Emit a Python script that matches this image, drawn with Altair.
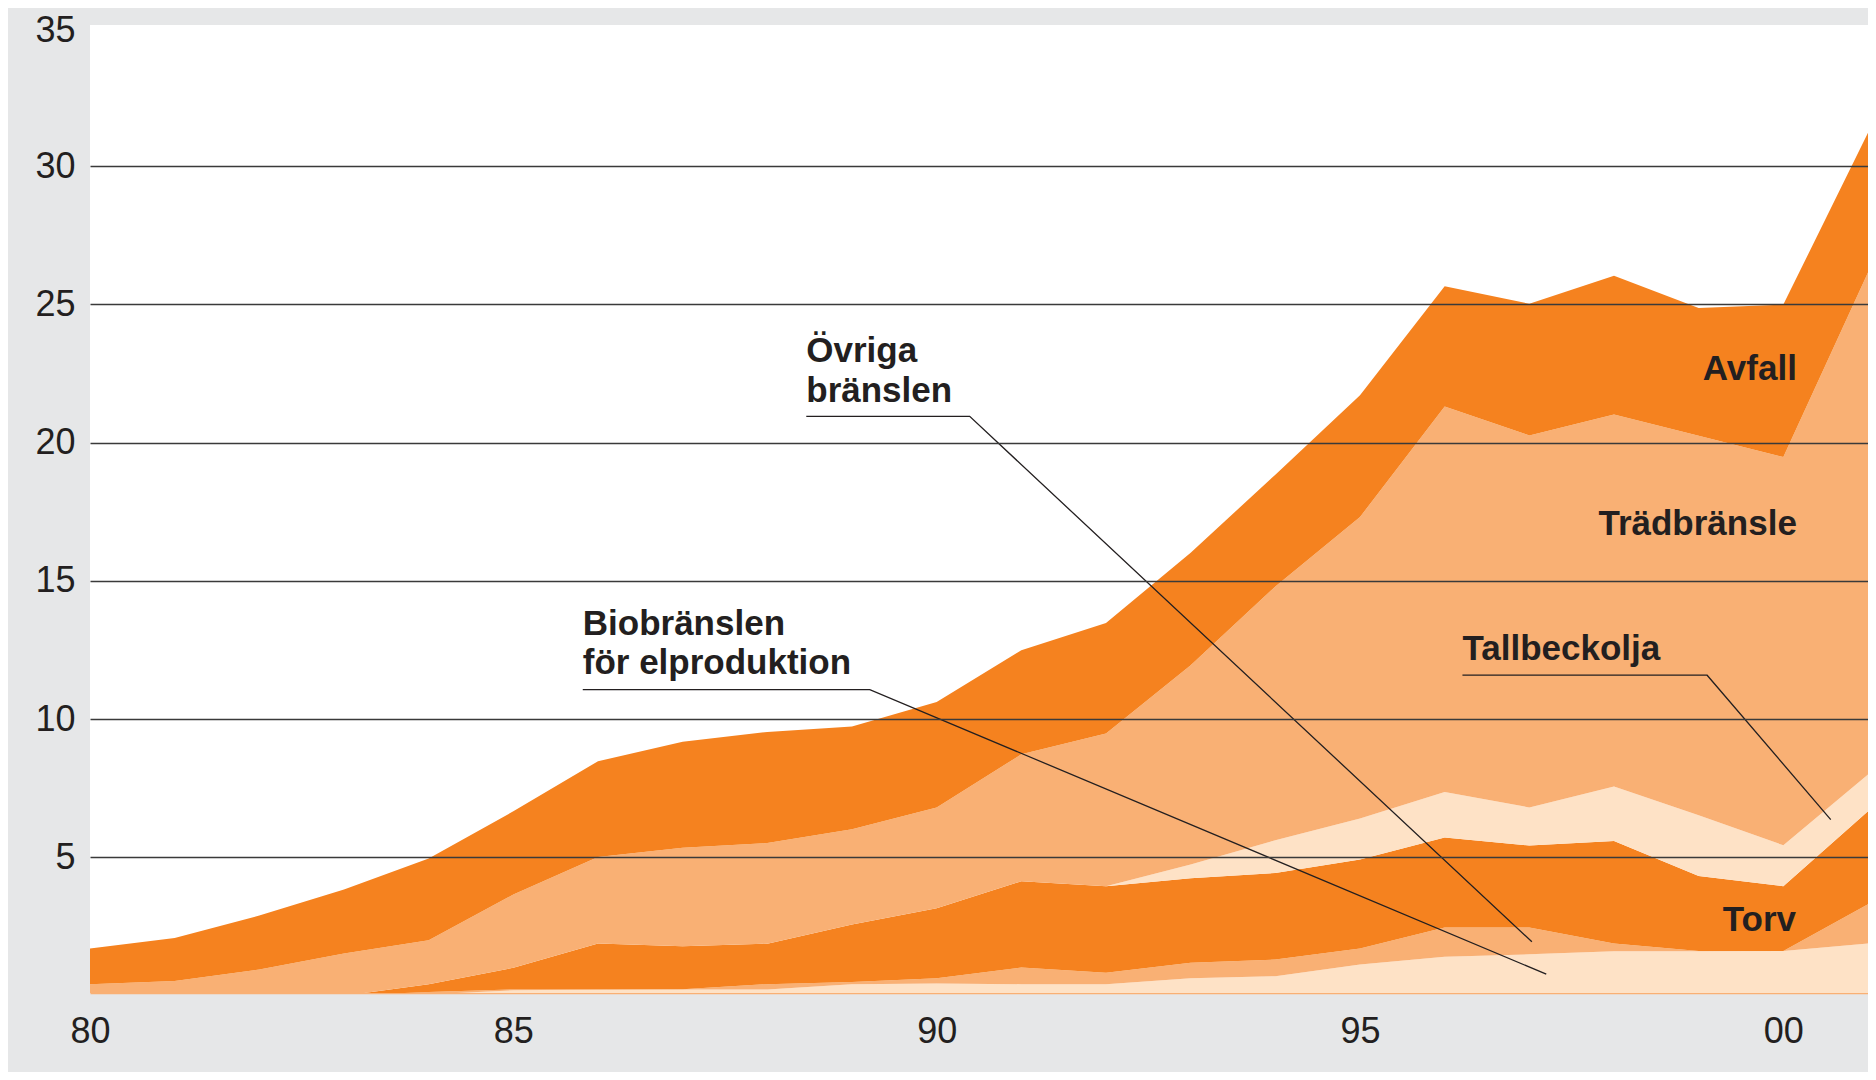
import altair as alt
import pandas as pd

# ---------------- data ----------------
years = list(range(1980, 2002))

bio = [0, 0, 0, 0, 0.05, 0.20, 0.23, 0.23, 0.23, 0.42, 0.44, 0.42, 0.42, 0.63, 0.71,
       1.13, 1.41, 1.50, 1.61, 1.61, 1.62, 1.89]
ovriga = [0, 0, 0, 0, 0.09, 0.03, 0, 0.01, 0.19, 0.08, 0.19, 0.60, 0.41, 0.56, 0.60,
          0.58, 1.06, 0.97, 0.28, 0.01, 0, 1.42]
torv = [0, 0, 0, 0, 0.28, 0.78, 1.66, 1.55, 1.46, 2.08, 2.53, 3.12, 3.13, 3.06, 3.13,
        3.22, 3.25, 2.96, 3.71, 2.71, 2.34, 3.36]
tallbeck = [0, 0, 0, 0, 0, 0, 0, 0, 0, 0, 0, 0, 0, 0.50, 1.18,
            1.48, 1.65, 1.38, 1.97, 2.20, 1.48, 1.33]
trad = [0.42, 0.53, 0.95, 1.53, 1.59, 2.65, 3.13, 3.56, 3.64, 3.44, 3.65, 4.59, 5.52,
        7.20, 9.18, 10.90, 13.94, 13.45, 13.45, 13.72, 14.04, 18.15]
avfall = [1.29, 1.56, 1.95, 2.31, 2.95, 3.01, 3.46, 3.83, 4.02, 3.72, 3.81, 3.76, 4.00,
          4.07, 4.04, 4.40, 4.34, 4.76, 5.01, 4.62, 5.51, 5.05]

series_names = ["Biobränslen för elproduktion", "Övriga bränslen", "Torv",
                "Tallbeckolja", "Trädbränsle", "Avfall"]
series_values = [bio, ovriga, torv, tallbeck, trad, avfall]
series_colors = ["#fee2c6", "#f9b074", "#f5821f", "#fee2c6", "#f9b074", "#f5821f"]

y_ticks = [5, 10, 15, 20, 25, 30, 35]
x_ticks = [1980, 1985, 1990, 1995, 2000]

# annotation labels: text, x (year), y (value)
left_labels = ["Övriga", "bränslen", "Biobränslen", "för elproduktion", "Tallbeckolja"]
left_x = [1988.46, 1988.46, 1985.82, 1985.82, 1996.21]
left_y = [22.93, 21.46, 13.03, 11.65, 12.13]
right_labels = ["Avfall", "Trädbränsle", "Torv"]
right_x = [2000.16, 2000.16, 2000.15]
right_y = [22.25, 16.65, 2.35]

# leader lines (polylines in data units)
leader_group = ["ov", "ov", "ov", "bio", "bio", "bio", "tb", "tb", "tb"]
leader_x = [1988.46, 1990.39, 1997.03, 1985.82, 1989.21, 1997.20, 1996.21, 1999.10, 2000.56]
leader_y = [20.95, 20.95, 1.95, 11.07, 11.07, 0.78, 11.59, 11.59, 6.37]

# ---------------- build tables ----------------
rows = []
for i, (name, vals) in enumerate(zip(series_names, series_values)):
    for yr, v in zip(years, vals):
        rows.append({"year": yr, "value": v, "fuel": name, "ord": i})
df = pd.DataFrame(rows)

lead_df = pd.DataFrame({"group": leader_group, "x": leader_x, "y": leader_y,
                        "idx": list(range(len(leader_x)))})
left_df = pd.DataFrame({"label": left_labels, "x": left_x, "y": left_y})
right_df = pd.DataFrame({"label": right_labels, "x": right_x, "y": right_y})

FONT = "Liberation Sans"
TXT = "#231f20"

xscale = alt.Scale(domain=[1980, 2001], nice=False, zero=False)
yscale = alt.Scale(domain=[0.1, 35.1], nice=False, zero=False)

xaxis = alt.Axis(values=x_ticks, format="d", labelExpr="substring(datum.label, 2)",
                 ticks=False, domain=True, domainColor="#f9b074", domainWidth=1.5,
                 labelPadding=21, labelFlush=False, grid=False, title=None,
                 labelFont=FONT, labelFontSize=36, labelColor=TXT)
yaxis = alt.Axis(values=y_ticks, ticks=False, domain=False, labelPadding=15,
                 grid=True, gridColor="#3a3a3a", gridWidth=1.5,
                 gridOpacity=alt.condition("datum.value >= 35", alt.value(0), alt.value(1)),
                 labelOffset=alt.condition("datum.value >= 35", alt.value(3), alt.value(0)),
                 zindex=1, title=None, labelFont=FONT, labelFontSize=36,
                 labelColor=TXT, labelFlush=False)

areas = alt.Chart(df).mark_area(clip=True, interpolate="linear").encode(
    x=alt.X("year:Q", scale=xscale, axis=xaxis),
    y=alt.Y("value:Q", stack="zero", scale=yscale, axis=yaxis),
    color=alt.Color("fuel:N", scale=alt.Scale(domain=series_names, range=series_colors),
                    legend=None),
    order=alt.Order("ord:Q", sort="ascending"),
)

leaders = alt.Chart(lead_df).mark_line(color=TXT, strokeWidth=1.3, clip=True).encode(
    x=alt.X("x:Q", scale=xscale, title=None),
    y=alt.Y("y:Q", scale=yscale, title=None),
    detail="group:N",
    order="idx:Q",
)

ltext = alt.Chart(left_df).mark_text(align="left", baseline="alphabetic", font=FONT,
                                     fontSize=35, fontWeight="bold", color=TXT).encode(
    x=alt.X("x:Q", scale=xscale, title=None),
    y=alt.Y("y:Q", scale=yscale, title=None),
    text="label:N",
)

rtext = alt.Chart(right_df).mark_text(align="right", baseline="alphabetic", font=FONT,
                                      fontSize=35, fontWeight="bold", color=TXT).encode(
    x=alt.X("x:Q", scale=xscale, title=None),
    y=alt.Y("y:Q", scale=yscale, title=None),
    text="label:N",
)

chart = alt.layer(areas, leaders, ltext, rtext).properties(
    width=1778, height=968,
    autosize=alt.AutoSizeParams(type="none"),
    padding={"left": 82, "top": 17, "right": 0, "bottom": 79},
    background="#e6e7e8",
).configure_view(fill="white", stroke=None)

chart.save("out.html", embed_options={"renderer": "svg", "actions": False})
